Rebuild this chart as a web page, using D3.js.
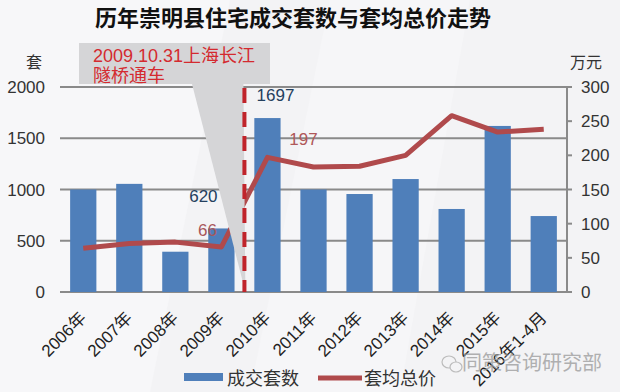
<!DOCTYPE html>
<html>
<head>
<meta charset="utf-8">
<script src="https://cdn.jsdelivr.net/npm/d3@7"></script>
<style>
  body { margin: 0; background: #f4f4f6; }
  svg { display: block; }
  text { font-family: "Liberation Sans", "Noto Sans CJK SC", sans-serif; }
</style>
</head>
<body>
<div id="chart"></div>
<script>
// Data
const categories = ["2006年", "2007年", "2008年", "2009年", "2010年", "2011年",
                    "2012年", "2013年", "2014年", "2015年", "2016年1-4月"];
const units = [1000, 1055, 393, 620, 1697, 1000, 956, 1102, 810, 1620, 741];      // 成交套数
const avgPrice = [64, 71, 73, 66, 197, 183, 184, 200, 258, 234, 238];               // 套均总价 (万元)
const leftTicks = [0, 500, 1000, 1500, 2000];
const rightTicks = [0, 50, 100, 150, 200, 250, 300];

const width = 620, height = 392;
const plot = { left: 60, right: 567, top: 87, bottom: 292 };

const barColor = "#4f7fba";
const lineColor = "#b04a4c";
const gridColor = "#8a8a8a";

const svg = d3.select("#chart").append("svg")
    .attr("width", width)
    .attr("height", height);

// faint background panels
svg.append("rect").attr("width", width).attr("height", height).attr("fill", "#f3f3f5");
svg.append("path").attr("d", "M0,0 L230,0 L150,392 L0,392 Z").attr("fill", "#f7f7f9");
svg.append("path").attr("d", "M330,0 L470,0 L400,392 L250,392 Z").attr("fill", "#f6f6f8");

const x = d3.scaleBand()
    .domain(categories)
    .range([plot.left, plot.right])
    .paddingInner(0.43)
    .paddingOuter(0.22);

const yL = d3.scaleLinear().domain([0, 2000]).range([plot.bottom, plot.top]);
const yR = d3.scaleLinear().domain([0, 300]).range([plot.bottom, plot.top]);
const cx = d => x(d) + x.bandwidth() / 2;

// title
svg.append("text")
    .attr("x", 293).attr("y", 26)
    .attr("text-anchor", "middle")
    .attr("font-size", "22px")
    .attr("font-weight", "bold")
    .attr("font-family", "'Noto Sans CJK SC', sans-serif")
    .attr("fill", "#111")
    .text("历年崇明县住宅成交套数与套均总价走势");

// grid lines
svg.append("g").selectAll("line")
    .data(leftTicks)
    .join("line")
    .attr("x1", plot.left).attr("x2", plot.right)
    .attr("y1", d => yL(d)).attr("y2", d => yL(d))
    .attr("stroke", gridColor)
    .attr("stroke-width", 2);

// left tick labels
svg.append("g").selectAll("text")
    .data(leftTicks)
    .join("text")
    .attr("x", 45).attr("y", d => yL(d) + 6)
    .attr("text-anchor", "end")
    .attr("font-size", "17px")
    .attr("fill", "#333")
    .text(d => d);

// right axis
const rAxis = svg.append("g");
rAxis.append("line")
    .attr("x1", plot.right).attr("x2", plot.right)
    .attr("y1", plot.top - 1).attr("y2", plot.bottom)
    .attr("stroke", gridColor).attr("stroke-width", 2);
rAxis.selectAll(".tk")
    .data(rightTicks)
    .join("line")
    .attr("x1", plot.right).attr("x2", plot.right + 5)
    .attr("y1", d => yR(d)).attr("y2", d => yR(d))
    .attr("stroke", gridColor).attr("stroke-width", 2);
rAxis.selectAll("text")
    .data(rightTicks)
    .join("text")
    .attr("x", 581).attr("y", d => yR(d) + 6)
    .attr("font-size", "17px")
    .attr("fill", "#333")
    .text(d => d);

// axis unit labels
svg.append("text").attr("x", 34).attr("y", 68).attr("text-anchor", "middle")
    .attr("font-size", "16px").attr("fill", "#333").text("套");
svg.append("text").attr("x", 570).attr("y", 68)
    .attr("font-size", "16px").attr("fill", "#333").text("万元");

// bars
svg.append("g").selectAll("rect")
    .data(categories)
    .join("rect")
    .attr("x", d => x(d))
    .attr("width", x.bandwidth())
    .attr("y", (d, i) => yL(units[i]))
    .attr("height", (d, i) => plot.bottom - yL(units[i]))
    .attr("fill", barColor);

// price line
const line = d3.line()
    .x(d => cx(d[0]))
    .y(d => yR(d[1]));
svg.append("path")
    .datum(categories.map((c, i) => [c, avgPrice[i]]))
    .attr("d", line)
    .attr("fill", "none")
    .attr("stroke", lineColor)
    .attr("stroke-width", 5)
    .attr("stroke-linejoin", "round");

// x labels
svg.append("g").selectAll("text")
    .data(categories)
    .join("text")
    .attr("transform", d => `translate(${cx(d) + 4},319) rotate(-45)`)
    .attr("text-anchor", "end")
    .attr("font-size", "17px")
    .attr("fill", "#222")
    .text(d => d);

// callout box
const markX = (cx("2009年") + cx("2010年")) / 2;
svg.append("rect")
    .attr("x", 79).attr("y", 43).attr("width", 191).attr("height", 41)
    .attr("fill", "#d5d5d7");
svg.append("path")
    .attr("d", `M192,84 L${markX - 1},84 L${markX + 1},${plot.bottom} Z`)
    .attr("fill", "#d5d5d7");
svg.append("text").attr("x", 93).attr("y", 62)
    .attr("font-size", "18px").attr("fill", "#d42a2f")
    .text("2009.10.31上海长江");
svg.append("text").attr("x", 93).attr("y", 82)
    .attr("font-size", "18px").attr("fill", "#d42a2f")
    .text("隧桥通车");

// dashed event line
svg.append("line")
    .attr("x1", markX).attr("x2", markX)
    .attr("y1", plot.top + 1).attr("y2", plot.bottom)
    .attr("stroke", "#c0242b")
    .attr("stroke-width", 4)
    .attr("stroke-dasharray", "15,9");

// data labels
const i09 = categories.indexOf("2009年"), i10 = categories.indexOf("2010年");
svg.append("text").attr("x", cx("2010年") + 8).attr("y", yL(units[i10]) - 17)
    .attr("text-anchor", "middle").attr("font-size", "17px").attr("fill", "#24405e")
    .text(units[i10]);
svg.append("text").attr("x", cx("2009年") - 18).attr("y", yL(units[i09]) - 26)
    .attr("text-anchor", "middle").attr("font-size", "17px").attr("fill", "#24405e")
    .text(units[i09]);
svg.append("text").attr("x", cx("2009年") - 14).attr("y", yR(avgPrice[i09]) - 11)
    .attr("text-anchor", "middle").attr("font-size", "17px").attr("fill", "#a8575a")
    .text(avgPrice[i09]);
svg.append("text").attr("x", cx("2010年") + 36).attr("y", yR(avgPrice[i10]) - 12)
    .attr("text-anchor", "middle").attr("font-size", "17px").attr("fill", "#b0585a")
    .text(avgPrice[i10]);

// legend
const legend = svg.append("g");
legend.append("rect").attr("x", 184).attr("y", 373).attr("width", 39).attr("height", 8)
    .attr("fill", barColor);
legend.append("text").attr("x", 227).attr("y", 385)
    .attr("font-size", "18px").attr("fill", "#333").text("成交套数");
legend.append("line").attr("x1", 318).attr("x2", 362).attr("y1", 378).attr("y2", 378)
    .attr("stroke", lineColor).attr("stroke-width", 5);
legend.append("text").attr("x", 364).attr("y", 385)
    .attr("font-size", "18px").attr("fill", "#333").text("套均总价");

// watermark
const wm = svg.append("g").attr("opacity", 0.75);
wm.append("ellipse").attr("cx", 449).attr("cy", 362).attr("rx", 7).attr("ry", 6)
    .attr("fill", "none").attr("stroke", "#aaa").attr("stroke-width", 1.2);
wm.append("ellipse").attr("cx", 456).attr("cy", 367).attr("rx", 6).attr("ry", 5)
    .attr("fill", "#f4f4f6").attr("stroke", "#aaa").attr("stroke-width", 1.2);
wm.append("text").attr("x", 462).attr("y", 370)
    .attr("font-size", "20px").attr("fill", "#999").text("同策咨询研究部");
</script>
</body>
</html>
